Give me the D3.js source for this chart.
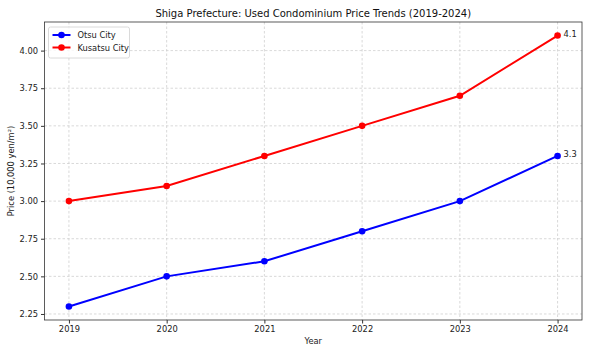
<!DOCTYPE html>
<html>
<head>
<meta charset="utf-8">
<script src="https://cdn.jsdelivr.net/npm/d3@7"></script>
<style>
  body { margin: 0; background: #fff; }
  svg { font-family: "DejaVu Sans", sans-serif; }
</style>
</head>
<body>
<svg id="chart" width="591" height="354"></svg>
<script>
const years = [2019, 2020, 2021, 2022, 2023, 2024];
const otsu = [2.3, 2.5, 2.6, 2.8, 3.0, 3.3];
const kusatsu = [3.0, 3.1, 3.3, 3.5, 3.7, 4.1];
const yTicks = [2.25, 2.50, 2.75, 3.00, 3.25, 3.50, 3.75, 4.00];

const series = [
  { name: "Otsu City", values: otsu, color: "#0000ff" },
  { name: "Kusatsu City", values: kusatsu, color: "#ff0000" }
];

const margin = { top: 22, right: 9, bottom: 34, left: 44.5 },
      width = 591 - margin.left - margin.right,
      height = 354 - margin.top - margin.bottom;

const svg = d3.select("#chart");
const g = svg.append("g").attr("transform", `translate(${margin.left},${margin.top})`);

const x = d3.scaleLinear().domain([2018.75, 2024.25]).range([0, width]);
const y = d3.scaleLinear().domain([2.21, 4.19]).range([height, 0]);

// grid
g.append("g").selectAll("line").data(years).join("line")
  .attr("x1", d => x(d)).attr("x2", d => x(d))
  .attr("y1", 0).attr("y2", height)
  .attr("stroke", "#cfcfcf").attr("stroke-width", 0.8).attr("stroke-dasharray", "2.5,2");
g.append("g").selectAll("line").data(yTicks).join("line")
  .attr("x1", 0).attr("x2", width)
  .attr("y1", d => y(d)).attr("y2", d => y(d))
  .attr("stroke", "#cfcfcf").attr("stroke-width", 0.8).attr("stroke-dasharray", "2.5,2");

// axes
const xAxis = g.append("g").attr("transform", `translate(0,${height})`)
  .call(d3.axisBottom(x).tickValues(years).tickFormat(d3.format("d")).tickSize(3.5).tickPadding(3));
const yAxis = g.append("g")
  .call(d3.axisLeft(y).tickValues(yTicks).tickFormat(d3.format(".2f")).tickSize(3.5).tickPadding(3));
[xAxis, yAxis].forEach(a => {
  a.select(".domain").remove();
  a.selectAll("text").attr("font-size", 8.3).attr("fill", "#222").attr("font-family", "DejaVu Sans");
  a.selectAll("line").attr("stroke", "#333");
});

// frame
g.append("rect").attr("width", width).attr("height", height)
  .attr("fill", "none").attr("stroke", "#333").attr("stroke-width", 0.8);

// lines
const line = d3.line().x((d, i) => x(years[i])).y(d => y(d));
series.forEach(s => {
  g.append("path").datum(s.values)
    .attr("d", line).attr("fill", "none")
    .attr("stroke", s.color).attr("stroke-width", 2);
  g.append("g").selectAll("circle").data(s.values).join("circle")
    .attr("cx", (d, i) => x(years[i])).attr("cy", d => y(d))
    .attr("r", 3.3).attr("fill", s.color);
  const last = s.values.length - 1;
  g.append("text")
    .attr("x", x(years[last]) + 6).attr("y", y(s.values[last]) + 1)
    .attr("font-size", 8.3).attr("fill", "#222")
    .text(s.values[last].toFixed(1));
});

// legend
const lg = g.append("g").attr("transform", "translate(4,5)");
lg.append("rect").attr("width", 81).attr("height", 31).attr("rx", 2)
  .attr("fill", "#fff").attr("fill-opacity", 0.8).attr("stroke", "#d0d0d0").attr("stroke-width", 0.8);
series.forEach((s, i) => {
  const yy = 8 + i * 12.5;
  lg.append("line").attr("x1", 4).attr("x2", 22).attr("y1", yy).attr("y2", yy)
    .attr("stroke", s.color).attr("stroke-width", 2);
  lg.append("circle").attr("cx", 13).attr("cy", yy).attr("r", 3.3).attr("fill", s.color);
  lg.append("text").attr("x", 29).attr("y", yy + 3).attr("font-size", 8.3).attr("fill", "#222").text(s.name);
});

// title & labels
svg.append("text").attr("x", margin.left + width / 2).attr("y", 17)
  .attr("text-anchor", "middle").attr("font-size", 10).attr("fill", "#111")
  .text("Shiga Prefecture: Used Condominium Price Trends (2019-2024)");
svg.append("text").attr("x", margin.left + width / 2).attr("y", 344)
  .attr("text-anchor", "middle").attr("font-size", 8.3).attr("fill", "#222").text("Year");
svg.append("text").attr("transform", `translate(14,${margin.top + height / 2}) rotate(-90)`)
  .attr("text-anchor", "middle").attr("font-size", 8.3).attr("fill", "#222")
  .text("Price (10,000 yen/m²)");
</script>
</body>
</html>
